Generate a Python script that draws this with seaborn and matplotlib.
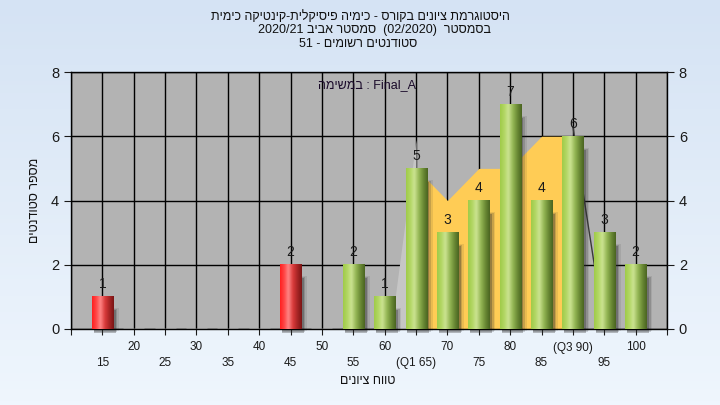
import re
import numpy as np
import pandas as pd
import matplotlib
matplotlib.use('Agg')
import matplotlib.pyplot as plt
import seaborn as sns
from matplotlib.colors import LinearSegmentedColormap
from matplotlib.patches import Rectangle

# data
grades = [15, 20, 25, 30, 35, 40, 45, 50, 55, 60, 65, 70, 75, 80, 85, 90, 95, 100]
counts = [1, 0, 0, 0, 0, 0, 2, 0, 2, 1, 5, 3, 4, 7, 4, 6, 3, 2]

# yellow band between Q1 and Q3 and the grey edges around it
band_x = [65, 70, 75, 80, 85, 90]
band_y = [5, 4, 5, 5, 6, 6]
shade_x = [61, 65]
shade_y = [0, 5.9]
edge_x = [90, 95]
edge_y = [6.3, 0]

top_ticks = [20, 30, 40, 50, 60, 70, 80, 90, 100]
top_labels = ['20', '30', '40', '50', '60', '70', '80', '(Q3 90)', '100']
bottom_ticks = [15, 25, 35, 45, 55, 65, 75, 85, 95]
bottom_labels = ['15', '25', '35', '45', '55', '(Q1 65)', '75', '85', '95']

title_lines = ['היסטוגרמת ציונים בקורס - כימיה פיסיקלית-קינטיקה כימית',
               'בסמסטר  (02/2020)  סמסטר אביב 2020/21',
               'סטודנטים רשומים - 51']


def rtl(s):
    # logical -> visual order for right-to-left text (matplotlib has no bidi)
    s = s[::-1]
    return re.sub(r'[0-9A-Za-z_/().]+', lambda m: m.group(0)[::-1], s)


sns.set_style('white')
plt.rcParams['font.family'] = ['Liberation Sans', 'DejaVu Sans']

fig = plt.figure(figsize=(7.2, 4.05), dpi=100)

# light blue figure gradient
bg = fig.add_axes([0, 0, 1, 1], zorder=-10)
bg.imshow(np.linspace(0, 1, 100).reshape(-1, 1), aspect='auto', extent=[0, 1, 0, 1],
          cmap=LinearSegmentedColormap.from_list('bg', ['#d5e3f4', '#eff6fd']))
bg.axis('off')

ax = fig.add_axes([71 / 720, 1 - 329 / 405, 596 / 720, 257 / 405])
ax.set_facecolor('#b3b3b3')

df = pd.DataFrame({'grade': grades, 'count': counts})
sns.barplot(data=df, x='grade', y='count', native_scale=True, width=0.67,
            color='#9cc84a', errorbar=None, ax=ax, zorder=3)

green = LinearSegmentedColormap.from_list('g', [(0, '#9fcb48'), (0.2, '#b3d766'), (0.38, '#cbe391'),
                                                (0.6, '#93b553'), (0.8, '#6a8a35'), (1, '#4a6420')])
red = LinearSegmentedColormap.from_list('r', [(0, '#ff1f1f'), (0.2, '#ff4a4a'), (0.38, '#ff8585'),
                                              (0.6, '#d83a3a'), (0.8, '#a82525'), (1, '#7a1515')])
grad = np.linspace(0, 1, 64).reshape(1, -1)

bars = list(ax.patches)
for patch, g, c in zip(bars, grades, counts):
    if c <= 0:
        continue
    x0, w, h = patch.get_x(), patch.get_width(), patch.get_height()
    patch.set_facecolor('none')
    patch.set_edgecolor('none')
    ax.imshow(grad, extent=[x0, x0 + w, 0, h], aspect='auto', zorder=3,
              cmap=red if g < 55 else green, interpolation='bicubic')
    # soft shadow to the right
    for k, a in enumerate([0.3, 0.18, 0.1]):
        ax.add_patch(Rectangle((x0 + 0.3, -0.12 + 0.03 * k), w + 0.15 + 0.25 * k, h - 0.3,
                               facecolor='#2a2a2a', alpha=a, lw=0, zorder=2.5, clip_on=False))
    ax.text(x0 + w / 2, h + 0.17, str(c), ha='center', va='bottom', fontsize=10,
            color='#1a1a1a', zorder=5)

ax.fill_between(band_x, band_y, color='#ffcc55', lw=0, zorder=2)
ax.fill_between(shade_x, shade_y, color='#c6c6c6', lw=0, zorder=2)
ax.plot(edge_x, edge_y, color='#3a3a3a', lw=1, zorder=2.2)

ax.set_xlim(10, 105)
ax.set_ylim(0, 8)
ax.xaxis.remove_overlapping_locs = False
ax.set_xticks(np.arange(10, 106, 5))
ax.set_xticklabels([top_labels[top_ticks.index(v)] if v in top_ticks else '' for v in range(10, 106, 5)])
ax.set_xticks(bottom_ticks, minor=True)
ax.set_xticklabels(bottom_labels, minor=True)
ax.set_yticks([0, 2, 4, 6, 8])
ax.set_xlabel('')
ax.set_ylabel('')
ax.tick_params(axis='x', which='major', length=4, pad=5, labelsize=8.5, colors='#1a1a1a',
               bottom=True, labelbottom=True)
ax.tick_params(axis='x', which='minor', length=0, pad=20, labelsize=8.5, colors='#1a1a1a',
               bottom=True, labelbottom=True)
ax.tick_params(axis='y', length=5, labelsize=10.5, colors='#1a1a1a', left=True)
ax.grid(True, which='major', color='black', lw=1)
ax.set_axisbelow(True)
for sp in ax.spines.values():
    sp.set_color('black')
    sp.set_linewidth(1)

ax2 = ax.twinx()
ax2.set_ylim(0, 8)
ax2.set_yticks([0, 2, 4, 6, 8])
ax2.tick_params(axis='y', length=5, labelsize=10.5, colors='#1a1a1a', right=True)
ax2.grid(False)
for sp in ax2.spines.values():
    sp.set_visible(False)

for i, (line, x) in enumerate(zip(title_lines, [360, 375, 358])):
    fig.text(x / 720, 1 - (17 + 13.5 * i) / 405, rtl(line), ha='center', va='center',
             fontsize=9, color='#111111')

fig.text(367 / 720, 1 - 85 / 405, rtl('במשימה') + ' : Final_A', ha='center', va='center',
         fontsize=9, color='#1a0a2a')
fig.text(368 / 720, 1 - 381 / 405, rtl('טווח ציונים'), ha='center', va='center',
         fontsize=9, color='#111111')
fig.text(35 / 720, 1 - 200 / 405, rtl('מספר סטודנטים'), ha='center', va='center',
         rotation=90, fontsize=9, color='#111111')

fig.savefig('out.png', dpi=100)
